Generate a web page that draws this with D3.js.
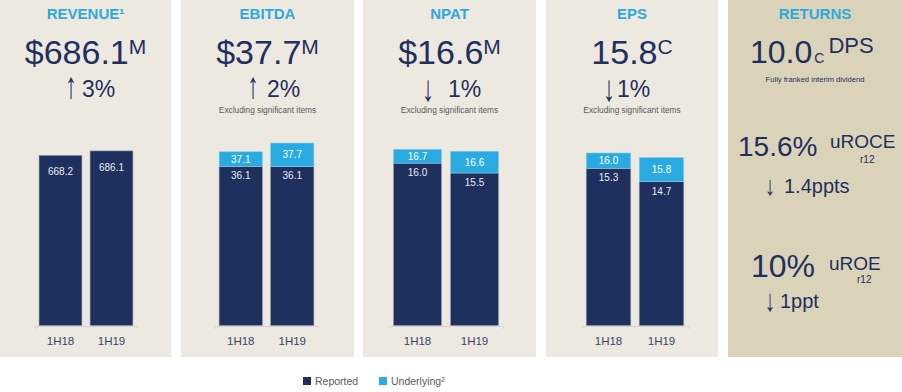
<!DOCTYPE html>
<html>
<head>
<meta charset="utf-8">
<script src="https://cdn.jsdelivr.net/npm/d3@7"></script>
<style>
  body { margin: 0; background: #ffffff; }
  svg { display: block; font-family: "Liberation Sans", Arial, sans-serif; }
</style>
</head>
<body>
<div id="canvas"></div>
<script>
"use strict"

// data
let periods = ["1H18", "1H19"];
let metrics = ["REVENUE\u00B9", "EBITDA", "NPAT", "EPS"];
let reported = [[668.2, 686.1], [36.1, 36.1], [16.0, 15.5], [15.3, 14.7]];
let underlying = [[null, null], [37.1, 37.7], [16.7, 16.6], [16.0, 15.8]];
let headlines = ["$686.1", "$37.7", "$16.6", "15.8"];
let headlineUnits = ["M", "M", "M", "C"];
let changeArrows = ["\u2191", "\u2191", "\u2193", "\u2193"];
let changeValues = ["3%", "2%", "1%", "1%"];
let notes = ["", "Excluding significant items", "Excluding significant items", "Excluding significant items"];
let legendNames = ["Reported", "Underlying\u00B2"];

// returns panel
let dps = "10.0";
let returnRows = [
    { value: "15.6%", label: "uROCE", arrow: "\u2193", change: "1.4ppts" },
    { value: "10%", label: "uROE", arrow: "\u2193", change: "1ppt" }
];

let navy = "#1f2f5e";
let lightBlue = "#29abe2";
let titleBlue = "#2ea9df";

let drawing = d3.select("#canvas")
    .append("svg")
    .attr("width", 902)
    .attr("height", 392);

// panel boxes [x0, x1]
let panels = [[0, 171], [181, 354], [363, 536], [546, 718]];
// x range of each little bar chart (axis line ends)
let axisRanges = [[35, 137], [215, 318], [389, 503], [582, 688]];
// the slide charts do not start at zero, so each has its own floor
let yDomains = [[0, 786], [25.2, 38.9], [7.8, 17.9], [8.16, 17.25]];
// where the arrow and the % sit in each header
let arrowX = [71, 253, 428, 609];
let changeX = [82, 267, 448, 617];
let baseY = 325.5;
let plotH = 200;

// tall thin arrow, like the slide's
function drawArrow(g, ch, x, y, size, stretch) {
    g.append("text")
        .attr("transform", "translate(" + x + "," + y + ") scale(0.75," + stretch + ")")
        .attr("text-anchor", "middle")
        .attr("font-size", size)
        .attr("fill", navy)
        .text(ch);
}

panels.forEach(function (p, i) {
    let cx = (p[0] + p[1]) / 2;
    let g = drawing.append("g");

    g.append("rect")
        .attr("x", p[0])
        .attr("y", 0)
        .attr("width", p[1] - p[0])
        .attr("height", 357)
        .attr("fill", "#ede9e0");

    // title
    g.append("text")
        .attr("x", cx)
        .attr("y", 19)
        .attr("text-anchor", "middle")
        .attr("font-size", 15)
        .attr("font-weight", "bold")
        .attr("fill", titleBlue)
        .text(metrics[i]);

    // big number with unit
    let big = g.append("text")
        .attr("x", cx)
        .attr("y", 64)
        .attr("text-anchor", "middle")
        .attr("fill", navy);
    big.append("tspan")
        .attr("font-size", 34)
        .text(headlines[i]);
    big.append("tspan")
        .attr("font-size", 21)
        .attr("dy", -10)
        .text(headlineUnits[i]);

    // change vs last year
    let down = changeArrows[i] == "\u2193";
    drawArrow(g, changeArrows[i], arrowX[i], down ? 101 : 98, 32, 1.15);
    g.append("text")
        .attr("x", changeX[i])
        .attr("y", 97)
        .attr("font-size", 23)
        .attr("fill", navy)
        .text(changeValues[i]);

    if (notes[i] != "") {
        g.append("text")
            .attr("x", cx)
            .attr("y", 113)
            .attr("text-anchor", "middle")
            .attr("font-size", 8.3)
            .attr("fill", "#595959")
            .text(notes[i]);
    }

    // bars
    let x = d3.scaleBand()
        .domain(periods)
        .range(axisRanges[i])
        .paddingInner(0.16)
        .paddingOuter(0.08);

    let y = d3.scaleLinear()
        .domain(yDomains[i])
        .range([baseY, baseY - plotH]);

    let rows = periods.map(function (per, j) {
        return { period: per, rep: reported[i][j], und: underlying[i][j] };
    });

    g.selectAll(".rep")
        .data(rows)
        .enter()
        .append("rect")
        .attr("x", d => x(d.period))
        .attr("y", d => y(d.rep))
        .attr("width", x.bandwidth())
        .attr("height", d => baseY - y(d.rep))
        .attr("fill", navy)
        .attr("stroke", "#8d96ad")
        .attr("stroke-width", 0.6);

    let withUnd = rows.filter(d => d.und != null);

    g.selectAll(".und")
        .data(withUnd)
        .enter()
        .append("rect")
        .attr("x", d => x(d.period))
        .attr("y", d => y(d.und))
        .attr("width", x.bandwidth())
        .attr("height", d => y(d.rep) - y(d.und))
        .attr("fill", lightBlue)
        .attr("stroke", "#8fcbe8")
        .attr("stroke-width", 0.6);

    g.selectAll(".repLabel")
        .data(rows)
        .enter()
        .append("text")
        .attr("x", d => x(d.period) + x.bandwidth() / 2)
        .attr("y", d => y(d.rep) + (i == 0 ? 20 : 13))
        .attr("text-anchor", "middle")
        .attr("font-size", 10)
        .attr("fill", "#e8ebf2")
        .text(d => d.rep.toFixed(1));

    g.selectAll(".undLabel")
        .data(withUnd)
        .enter()
        .append("text")
        .attr("x", d => x(d.period) + x.bandwidth() / 2)
        .attr("y", d => (y(d.und) + y(d.rep)) / 2 + 3.5)
        .attr("text-anchor", "middle")
        .attr("font-size", 10)
        .attr("fill", "#ffffff")
        .text(d => d.und.toFixed(1));

    // category axis
    let axis = g.append("g")
        .attr("transform", "translate(0," + (baseY + 0.5) + ")")
        .call(d3.axisBottom(x).tickSize(0).tickSizeOuter(3).tickPadding(11));
    axis.select(".domain").attr("stroke", "#d4d4d4");
    axis.selectAll("text")
        .attr("font-family", "Liberation Sans, Arial, sans-serif")
        .attr("font-size", 11.5)
        .attr("fill", "#38456a");

    let mid = x(periods[1]) - x.step() * x.paddingInner() / 2;
    axis.append("line")
        .attr("x1", mid)
        .attr("x2", mid)
        .attr("y1", 0)
        .attr("y2", 3)
        .attr("stroke", "#d4d4d4");
});

// RETURNS panel
let ret = drawing.append("g");

ret.append("rect")
    .attr("x", 728)
    .attr("y", 0)
    .attr("width", 174)
    .attr("height", 357)
    .attr("fill", "#dbd3b9");

ret.append("text")
    .attr("x", 815)
    .attr("y", 19)
    .attr("text-anchor", "middle")
    .attr("font-size", 15)
    .attr("font-weight", "bold")
    .attr("fill", titleBlue)
    .text("RETURNS");

let dpsText = ret.append("text")
    .attr("x", 750)
    .attr("y", 63)
    .attr("fill", navy);
dpsText.append("tspan").attr("font-size", 32).text(dps);
dpsText.append("tspan").attr("font-size", 14).attr("dx", 2).text("C");
dpsText.append("tspan").attr("font-size", 22).attr("dx", 4).attr("dy", -10).text("DPS");

ret.append("text")
    .attr("x", 815)
    .attr("y", 82)
    .attr("text-anchor", "middle")
    .attr("font-size", 7.6)
    .attr("fill", navy)
    .text("Fully franked interim dividend");

let rowLayout = [
    { vx: 738, vy: 156, lx: 830, ly: 148, rx: 860, ry: 163, ax: 770, ay: 195, as: 0.95, cx: 784, cy: 193 },
    { vx: 751, vy: 277, lx: 829, ly: 270, rx: 857, ry: 283, ax: 770, ay: 311, as: 1.1, cx: 780, cy: 308 }
];

returnRows.forEach(function (r, i) {
    let L = rowLayout[i];
    ret.append("text")
        .attr("x", L.vx).attr("y", L.vy)
        .attr("font-size", i == 0 ? 28 : 32)
        .attr("fill", navy)
        .text(r.value);
    ret.append("text")
        .attr("x", L.lx).attr("y", L.ly)
        .attr("font-size", 19)
        .attr("fill", navy)
        .text(r.label);
    ret.append("text")
        .attr("x", L.rx).attr("y", L.ry)
        .attr("font-size", 10)
        .attr("fill", navy)
        .text("r12");
    drawArrow(ret, r.arrow, L.ax, L.ay, 28, L.as);
    ret.append("text")
        .attr("x", L.cx).attr("y", L.cy)
        .attr("font-size", 20)
        .attr("fill", navy)
        .text(r.change);
});

// legend
let legendX = [303, 379];
let legendColors = [navy, lightBlue];
let legend = drawing.append("g");

legendNames.forEach(function (name, i) {
    legend.append("rect")
        .attr("x", legendX[i])
        .attr("y", 377)
        .attr("width", 8)
        .attr("height", 8)
        .attr("fill", legendColors[i]);
    legend.append("text")
        .attr("x", legendX[i] + 12)
        .attr("y", 385)
        .attr("font-size", 10.5)
        .attr("fill", "#595959")
        .text(name);
});
</script>
</body>
</html>
